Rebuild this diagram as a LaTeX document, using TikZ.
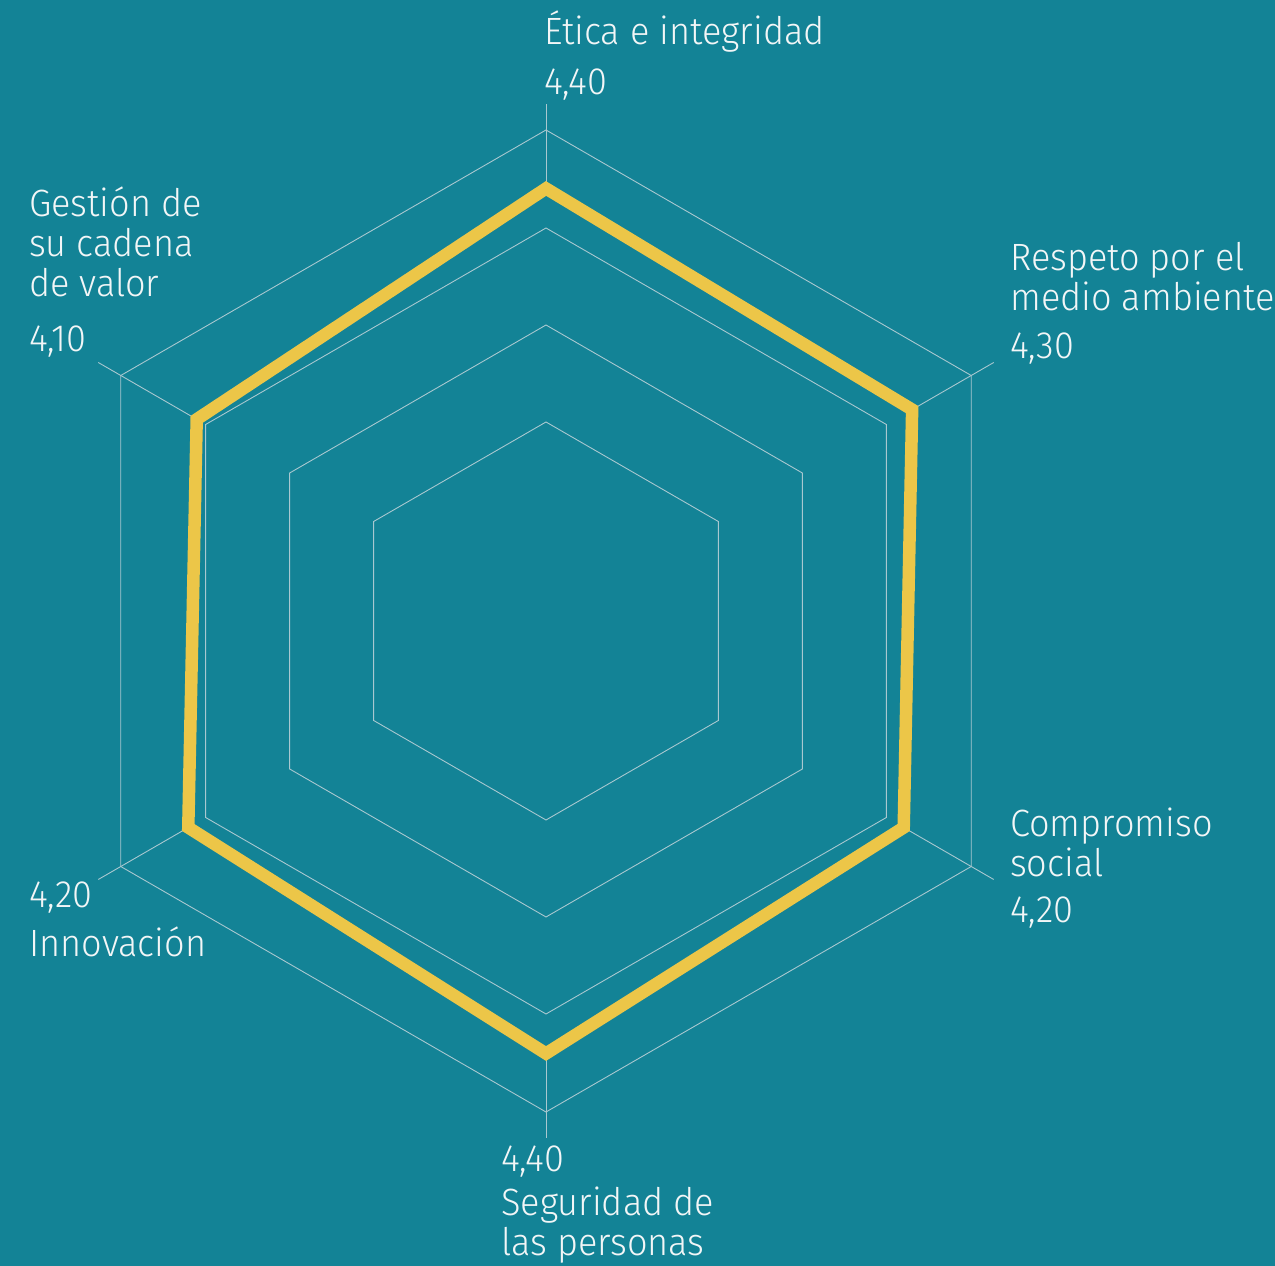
\documentclass[tikz,border=0pt]{standalone}
\usepackage{fontspec}
\IfFontExistsTF{Fira Sans Light}{\setmainfont{Fira Sans Light}[FakeStretch=0.95]}{\setmainfont{Fira Sans}[FakeStretch=0.95]}
\usetikzlibrary{calc}
\definecolor{bg}{HTML}{138396}
\definecolor{gridc}{HTML}{A9C8D0}
\definecolor{dataY}{HTML}{ECC648}
\definecolor{txt}{HTML}{F2F6F7}
\tikzset{
  gridline/.style={draw=gridc, line width=0.9pt},
  dataline/.style={draw=dataY, line width=12.5pt, line join=miter},
  lbl/.style={anchor=base west, inner sep=0pt, text=txt, align=left,
    font=\fontsize{38}{40}\selectfont},
}
\begin{document}
\begin{tikzpicture}[x=1pt,y=1pt]
\fill[bg] (0,0) rectangle (1275,1266);
\useasboundingbox (0,0) rectangle (1275,1266);
\coordinate (c) at (546,645);
% rings
\foreach \r in {199,296,393,491}{
  \draw[gridline, shift={(c)}] (90:\r) -- (30:\r) -- (-30:\r) -- (-90:\r) -- (-150:\r) -- (150:\r) -- cycle;
}
% data points and tick ends
\foreach \i/\a/\v in {1/90/4.4, 2/30/4.3, 3/-30/4.2, 4/-90/4.4, 5/-150/4.2, 6/150/4.1}{
  \coordinate (d\i) at ($(c)+(\a:{4.4+97.3*\v})$);
  \coordinate (t\i) at ($(c)+(\a:517)$);
}
\foreach \i in {1,...,6}{ \draw[gridline] (d\i) -- (t\i); }
\draw[dataline] (d1) -- (d2) -- (d3) -- (d4) -- (d5) -- (d6) -- cycle;
% labels (multi-line nodes: base = last line)
\node[lbl] (l1) at (544,1221) {Ética e integridad};
\node[lbl] (v1) at (544,1171) {4,40};
\node[lbl] (l2) at (1010,955) {Respeto por el\\medio ambiente};
\node[lbl] (v2) at (1010,907) {4,30};
\node[lbl] (l3) at (1010,389) {Compromiso\\social};
\node[lbl] (v3) at (1010,343) {4,20};
\node[lbl] (v4) at (501,94) {4,40};
\node[lbl] (l4) at (501,10) {Seguridad de\\las personas};
\node[lbl] (v5) at (29,358) {4,20};
\node[lbl] (l5) at (29,309) {Innovación};
\node[lbl] (l6) at (29,969) {Gestión de\\su cadena\\de valor};
\node[lbl] (v6) at (29,914) {4,10};
\end{tikzpicture}
\end{document}
